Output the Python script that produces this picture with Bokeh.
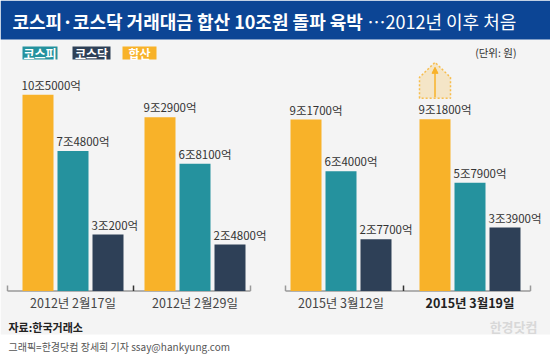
from bokeh.plotting import figure
from bokeh.models import Range1d, Arrow, NormalHead, ColumnDataSource
from bokeh.core.properties import value
from bokeh.embed import file_html
from bokeh.resources import INLINE

# ---------------- data ----------------
dates = ["2012년 2월17일", "2012년 2월29일", "2015년 3월12일", "2015년 3월19일"]
total = [10.50, 9.29, 9.17, 9.18]      # 합산 (조원)
kospi = [7.48, 6.81, 6.40, 5.79]       # 코스피 (조원)
kosdaq = [3.02, 2.48, 2.77, 3.39]      # 코스닥 (조원)
series_names = ["코스피", "코스닥", "합산"]

title_bold = "코스피·코스닥 거래대금 합산 10조원 돌파 육박"
title_rest = "…2012년 이후 처음"
unit_text = "(단위: 원)"
source_text = "자료:한국거래소"
credit_text = "그래픽=한경닷컴 장세희 기자 ssay@hankyung.com"
watermark = "한경닷컴"

# ---------------- style / layout ----------------
FONT = "Noto Sans CJK KR"
C_TOTAL = "#f8b229"
C_KOSPI = "#25929e"
C_KOSDAQ = "#2e4057"
C_TITLE = "#0c4595"
C_BG = "#f4f4f4"

W, H = 550, 354
BASE_PX = 290.5      # pixel row of the zero line
PX_PER = 18.7        # pixels per 1조

def Y(px):
    return (BASE_PX - px) / PX_PER

group_left = [22, 144, 290, 419]
bar_w = 31
step = 35

p = figure(width=W, height=H, x_range=Range1d(0, W),
           y_range=Range1d(Y(H), Y(0)),
           output_backend="svg", toolbar_location=None, min_border=0)
p.axis.visible = False
p.grid.visible = False
p.outline_line_color = None
p.background_fill_color = "white"
p.border_fill_color = "white"

# backgrounds
p.quad(left=[0], right=[W], top=[Y(39)], bottom=[Y(334)], color=C_BG, line_color=None)
p.quad(left=[0], right=[W], top=[Y(0)], bottom=[Y(39)], color=C_TITLE, line_color=None)

# title
p.text(x=[12], y=[Y(20)], text=[title_bold], text_font=value(FONT), text_font_size="18px",
       text_font_style="bold", text_color="white", text_baseline="middle", text_align="left")
p.text(x=[367], y=[Y(20)], text=[title_rest], text_font=value(FONT), text_font_size="18px",
       text_color="white", text_baseline="middle", text_align="left")

# legend
leg_boxes = [(22, 57, C_KOSPI), (72, 110, C_KOSDAQ), (122, 156, C_TOTAL)]
for (l, r, c), name in zip(leg_boxes, series_names):
    p.quad(left=[l], right=[r], top=[Y(46)], bottom=[Y(59)], color=c, line_color=None)
    p.text(x=[(l + r) / 2], y=[Y(53)], text=[name], text_font=value(FONT), text_font_size="12px",
           text_font_style="bold", text_color="white", text_align="center", text_baseline="middle")

p.text(x=[516], y=[Y(52)], text=[unit_text], text_font=value(FONT), text_font_size="10.5px",
       text_color="#333333", text_align="right", text_baseline="middle")

# axis lines (two panels)
for (a, b, mid) in [(7, 250, 133), (285, 530, 403)]:
    p.segment(x0=[a], y0=[0], x1=[b], y1=[0], line_color="#9a9a9a", line_width=1.5)
    p.segment(x0=[a, b], y0=[0, 0], x1=[a, b], y1=[Y(285), Y(285)], line_color="#9a9a9a", line_width=1.5)
    p.segment(x0=[mid], y0=[0], x1=[mid], y1=[Y(285)], line_color="#333333", line_width=1.5)

def fmt(v):
    e = round(v * 10000)
    return f"{e // 10000}조{e % 10000}억"

LABEL_GAP = 2.0 / PX_PER

# bars
for si, (vals, col) in enumerate([(total, C_TOTAL), (kospi, C_KOSPI), (kosdaq, C_KOSDAQ)]):
    xs = [g + si * step + bar_w / 2 for g in group_left]
    src = ColumnDataSource(dict(x=xs, top=vals, lx=[x - bar_w / 2 - 1 for x in xs],
                                ly=[v + LABEL_GAP for v in vals],
                                lab=[fmt(v) for v in vals]))
    p.vbar(x="x", top="top", bottom=0, width=bar_w, source=src, color=col, line_color=None)
    p.text(x="lx", y="ly", text="lab", source=src, text_font=value(FONT), text_font_size="11.5px",
           text_color="#333333", text_align="left", text_baseline="bottom")

# category labels
centers = [g + step + bar_w / 2 for g in group_left]
styles = ["normal", "normal", "normal", "bold"]
colors = ["#444444", "#444444", "#444444", "#222222"]
csrc = ColumnDataSource(dict(x=centers, y=[Y(302)] * 4, t=dates, s=styles, c=colors))
p.text(x="x", y="y", text="t", source=csrc, text_font=value(FONT), text_font_size="12.5px",
       text_font_style="s", text_color="c", text_align="center", text_baseline="middle")

# highlight arrow above the last 합산 bar
bl = group_left[3]
cx = bl + bar_w / 2
top_px = BASE_PX - total[3] * PX_PER
p.patch(x=[bl, bl, cx, bl + bar_w, bl + bar_w],
        y=[Y(top_px - 21), Y(top_px - 42), Y(top_px - 57), Y(top_px - 42), Y(top_px - 21)],
        fill_color=C_TOTAL, fill_alpha=0.22, line_color=C_TOTAL, line_alpha=0.8,
        line_dash="2 2", line_width=1.5)
p.add_layout(Arrow(end=NormalHead(size=6, fill_color=C_TOTAL, line_color=C_TOTAL),
                   x_start=cx, y_start=Y(top_px - 22), x_end=cx, y_end=Y(top_px - 52),
                   line_color=C_TOTAL, line_width=1.5))

# source / credit / watermark
p.text(x=[8], y=[Y(326)], text=[source_text], text_font=value(FONT), text_font_size="11px",
       text_font_style="bold", text_color="#222222", text_baseline="middle")
p.text(x=[8], y=[Y(346)], text=[credit_text], text_font=value(FONT), text_font_size="10px",
       text_color="#555555", text_baseline="middle")
p.text(x=[537], y=[Y(326)], text=[watermark], text_font=value(FONT), text_font_size="13px",
       text_font_style="bold", text_color="#d8d8d8", text_align="right", text_baseline="middle")

open("out.html", "w").write(file_html(p, INLINE))
